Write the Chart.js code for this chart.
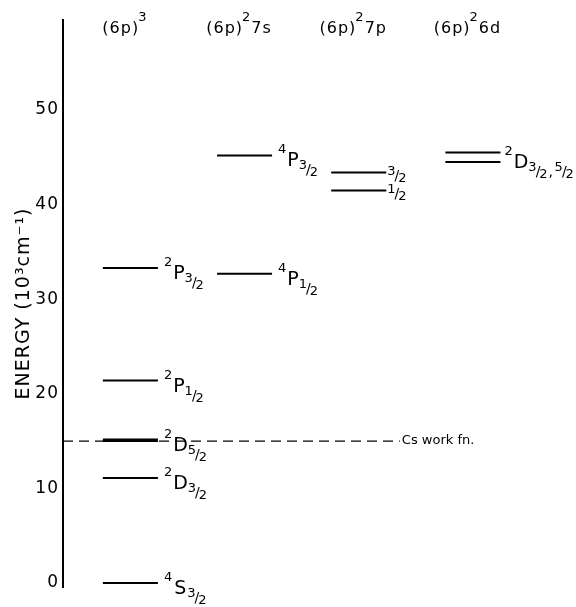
<!DOCTYPE html>
<html lang="en">
<head>
<meta charset="UTF-8">
<title>Energy levels</title>
<script src="https://cdn.jsdelivr.net/npm/chart.js@4.4.1/dist/chart.umd.min.js"></script>
<style>
  body { margin: 0; background: #fff; }
  #wrap { width: 576px; height: 607px; }
</style>
</head>
<body>
<div id="wrap"><canvas id="levels" width="576" height="607"></canvas></div>
<script>
// column headings: (6p)^n + tail
const configBase = ["(6p)", "(6p)", "(6p)", "(6p)"];
const configSup = ["3", "2", "2", "2"];
const configTail = ["", "7s", "7p", "6d"];

// levels (energy in 10^3 cm^-1), which column they sit in, and their term labels
const levelColumn = [0, 0, 0, 0, 0, 1, 1, 2, 2, 3, 3];
const levelEnergy = [0, 11.1, 15.1, 21.4, 33.3, 32.7, 45.2, 43.4, 41.5, 45.5, 44.5];
const levelMult = ["4", "2", "2", "2", "2", "4", "4", "", "", "", ""];
const levelL = ["S", "D", "D", "P", "P", "P", "P", "", "", "", ""];
const levelJ = ["3/2", "3/2", "5/2", "1/2", "3/2", "1/2", "3/2", "3/2", "1/2", "", ""];

// the two 6d levels share one label
const pairLevels = [9, 10];
const pairTerm = ["2", "D", "3/2,5/2"];

const workFnEnergy = 15.0;
const workFnLabel = "Cs work fn.";

const yTicks = [0, 10, 20, 30, 40, 50];

const FONT = '"DejaVu Sans", sans-serif';
const X_MIN = -0.59, X_MAX = 3.85;
const HALF = 0.241;       // half length of a level line, in column units
const WORKFN_END = 2.36;  // where the dashed line stops

const datasets = levelEnergy.map((e, i) => ({
    data: [{ x: levelColumn[i] - HALF, y: e }, { x: levelColumn[i] + HALF, y: e }],
    borderColor: "#000",
    borderWidth: i === 2 ? 3.5 : 2,
    pointRadius: 0
}));
datasets.push({
    data: [{ x: X_MIN, y: workFnEnergy }, { x: WORKFN_END, y: workFnEnergy }],
    borderColor: "#000",
    borderWidth: 1.3,
    borderDash: [10, 6],
    pointRadius: 0
});

function drawFrac(ctx, x, base, txt, size) {
    const [n, d] = txt.split("/");
    const ls = ctx.letterSpacing;
    ctx.letterSpacing = "0px";
    ctx.font = size + "px " + FONT;
    ctx.fillText(n, x, base - 7);
    let w = ctx.measureText(n).width - 1;
    ctx.font = (size + 1) + "px " + FONT;
    ctx.fillText("/", x + w, base - 2);
    w += ctx.measureText("/").width - 1;
    ctx.font = size + "px " + FONT;
    ctx.fillText(d, x + w, base);
    w += ctx.measureText(d).width;
    ctx.letterSpacing = ls;
    return w;
}

function drawTerm(ctx, x, y, sup, L, J) {
    ctx.font = "13px " + FONT;
    ctx.fillText(sup, x, y - 2);
    x += ctx.measureText(sup).width + 1;
    ctx.font = "19px " + FONT;
    ctx.fillText(L, x, y + 11);
    x += ctx.measureText(L).width;
    J.split(",").forEach((part, k) => {
        if (k) {
            ctx.font = "14px " + FONT;
            ctx.fillText(",", x + 1, y + 19);
            x += 7;
        }
        x += drawFrac(ctx, x, y + 21, part, 13);
    });
}

const labelPlugin = {
    id: "labels",
    beforeDraw(chart) {
        chart.ctx.letterSpacing = "1px";
    },
    afterDatasetsDraw(chart) {
        const ctx = chart.ctx;
        const xs = chart.scales.x, ys = chart.scales.y;
        ctx.save();
        ctx.fillStyle = "#000";
        ctx.textAlign = "left";
        ctx.textBaseline = "alphabetic";

        // column headings
        configBase.forEach((b, c) => {
            ctx.font = "16px " + FONT;
            const wb = ctx.measureText(b).width;
            const wt = ctx.measureText(configTail[c]).width;
            ctx.font = "13px " + FONT;
            const ws = ctx.measureText(configSup[c]).width;
            let x = xs.getPixelForValue(c) - 5 - (wb + ws + wt) / 2;
            ctx.font = "16px " + FONT;
            ctx.fillText(b, x, 33);
            x += wb - 1;
            ctx.font = "13px " + FONT;
            ctx.fillText(configSup[c], x, 21);
            x += ws;
            ctx.font = "16px " + FONT;
            ctx.fillText(configTail[c], x, 33);
        });

        // term labels
        levelEnergy.forEach((e, i) => {
            const x = xs.getPixelForValue(levelColumn[i] + HALF);
            const y = ys.getPixelForValue(e);
            if (levelL[i]) {
                drawTerm(ctx, x + 6, y, levelMult[i], levelL[i], levelJ[i]);
            } else if (levelJ[i]) {
                drawFrac(ctx, x + 1, y + 10, levelJ[i], 13);
            }
        });
        const pe = (levelEnergy[pairLevels[0]] + levelEnergy[pairLevels[1]]) / 2;
        drawTerm(ctx, xs.getPixelForValue(levelColumn[pairLevels[0]] + HALF) + 4,
            ys.getPixelForValue(pe), pairTerm[0], pairTerm[1], pairTerm[2]);

        // work function label
        ctx.letterSpacing = "0px";
        ctx.font = "13px " + FONT;
        ctx.textBaseline = "middle";
        ctx.fillText(workFnLabel, xs.getPixelForValue(WORKFN_END) + 2, ys.getPixelForValue(workFnEnergy));
        ctx.restore();
    }
};

new Chart(document.getElementById("levels"), {
    type: "line",
    data: { datasets: datasets },
    options: {
        responsive: false,
        animation: false,
        events: [],
        layout: { padding: { left: 0, right: 6, top: 20, bottom: 20 } },
        plugins: { legend: { display: false }, tooltip: { enabled: false } },
        elements: { line: { tension: 0 } },
        scales: {
            x: { type: "linear", min: X_MIN, max: X_MAX, display: false },
            y: {
                type: "linear",
                min: -0.42,
                max: 59.51,
                afterFit: (axis) => { axis.width = 63; },
                afterBuildTicks: (axis) => { axis.ticks = yTicks.map(v => ({ value: v })); },
                grid: { display: false, drawTicks: false, tickLength: 0 },
                border: { display: true, color: "#000", width: 2 },
                ticks: { color: "#000", padding: 4, autoSkip: false, font: { family: FONT, size: 17 } },
                title: {
                    display: true,
                    text: "ENERGY (10³cm⁻¹)",
                    color: "#000",
                    padding: { top: 13, bottom: 0 },
                    font: { family: FONT, size: 19 }
                }
            }
        }
    },
    plugins: [labelPlugin]
});
</script>
</body>
</html>
